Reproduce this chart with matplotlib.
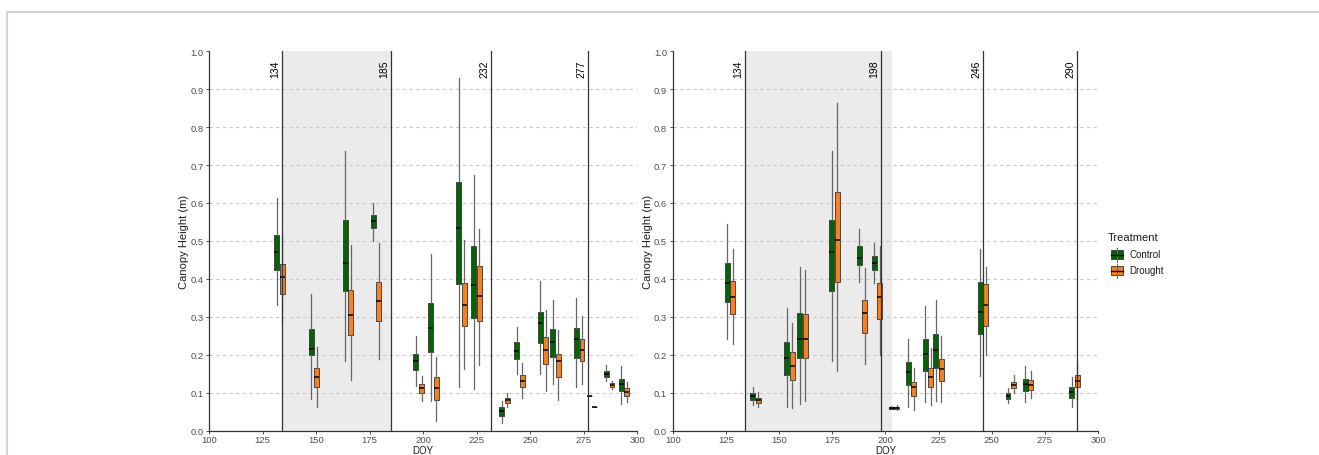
import numpy as np
import matplotlib
matplotlib.use("Agg")
import matplotlib.pyplot as plt
from matplotlib.lines import Line2D
from matplotlib.patches import Rectangle

plt.rcParams['font.family'] = ['Liberation Sans', 'DejaVu Sans']

# sampling dates (DOY) of each Control/Drought pair
left_doy = [133, 149, 165, 178, 198, 205, 218, 225, 238, 245, 256, 262, 273, 279, 287, 294]
right_doy = [127, 139, 155, 161, 176, 189, 196, 204, 212, 220, 225, 246, 259, 267, 289]

# phase boundaries and drought window per site
left_lines = [134, 185, 232, 277]
right_lines = [134, 198, 246, 290]
left_drought = (134, 185)
right_drought = (134, 203)

# box stats: lower whisker, q1, median, q3, upper whisker
left_ctrl_lo = [0.330, 0.083, 0.184, 0.501, 0.118, 0.077, 0.114, 0.109, 0.020, 0.149, 0.150, 0.122, 0.114, 0.090, 0.131, 0.070]
left_ctrl_q1 = [0.424, 0.199, 0.367, 0.534, 0.160, 0.207, 0.387, 0.297, 0.039, 0.188, 0.230, 0.194, 0.191, 0.090, 0.142, 0.105]
left_ctrl_med = [0.472, 0.214, 0.442, 0.553, 0.184, 0.271, 0.534, 0.385, 0.052, 0.210, 0.283, 0.234, 0.242, 0.090, 0.150, 0.122]
left_ctrl_q3 = [0.516, 0.267, 0.554, 0.569, 0.203, 0.337, 0.656, 0.486, 0.063, 0.234, 0.312, 0.267, 0.271, 0.090, 0.157, 0.137]
left_ctrl_hi = [0.612, 0.360, 0.737, 0.601, 0.248, 0.466, 0.929, 0.674, 0.079, 0.274, 0.394, 0.343, 0.350, 0.090, 0.173, 0.171]

left_dro_lo = [0.282, 0.061, 0.133, 0.188, 0.079, 0.024, 0.162, 0.172, 0.061, 0.085, 0.105, 0.080, 0.122, 0.061, 0.109, 0.074]
left_dro_q1 = [0.359, 0.114, 0.251, 0.289, 0.099, 0.080, 0.275, 0.290, 0.073, 0.114, 0.175, 0.140, 0.182, 0.061, 0.115, 0.092]
left_dro_med = [0.404, 0.142, 0.304, 0.341, 0.111, 0.112, 0.332, 0.354, 0.081, 0.131, 0.213, 0.182, 0.213, 0.061, 0.121, 0.102]
left_dro_q3 = [0.440, 0.166, 0.370, 0.391, 0.122, 0.140, 0.388, 0.435, 0.087, 0.146, 0.247, 0.201, 0.241, 0.061, 0.125, 0.111]
left_dro_hi = [0.520, 0.220, 0.488, 0.494, 0.144, 0.195, 0.503, 0.531, 0.098, 0.177, 0.319, 0.264, 0.302, 0.061, 0.131, 0.127]

right_ctrl_lo = [0.241, 0.067, 0.061, 0.070, 0.184, 0.392, 0.388, 0.056, 0.061, 0.076, 0.079, 0.144, 0.073, 0.074, 0.063]
right_ctrl_q1 = [0.339, 0.081, 0.146, 0.191, 0.367, 0.437, 0.423, 0.058, 0.120, 0.157, 0.166, 0.255, 0.083, 0.103, 0.086]
right_ctrl_med = [0.390, 0.090, 0.190, 0.241, 0.472, 0.455, 0.443, 0.060, 0.153, 0.201, 0.213, 0.312, 0.090, 0.122, 0.101]
right_ctrl_q3 = [0.442, 0.098, 0.234, 0.309, 0.554, 0.486, 0.459, 0.062, 0.181, 0.242, 0.255, 0.391, 0.098, 0.136, 0.114]
right_ctrl_hi = [0.544, 0.115, 0.324, 0.431, 0.737, 0.531, 0.494, 0.065, 0.242, 0.328, 0.344, 0.479, 0.111, 0.169, 0.140]

right_dro_lo = [0.227, 0.061, 0.059, 0.079, 0.157, 0.175, 0.200, 0.055, 0.055, 0.066, 0.076, 0.200, 0.098, 0.085, 0.083]
right_dro_q1 = [0.308, 0.073, 0.133, 0.191, 0.392, 0.256, 0.293, 0.058, 0.090, 0.114, 0.131, 0.276, 0.112, 0.108, 0.114]
right_dro_med = [0.353, 0.081, 0.171, 0.241, 0.503, 0.311, 0.352, 0.060, 0.114, 0.142, 0.162, 0.332, 0.121, 0.121, 0.131]
right_dro_q3 = [0.394, 0.087, 0.208, 0.308, 0.628, 0.343, 0.389, 0.062, 0.129, 0.166, 0.188, 0.387, 0.129, 0.133, 0.146]
right_dro_hi = [0.479, 0.102, 0.284, 0.424, 0.864, 0.429, 0.486, 0.066, 0.166, 0.217, 0.248, 0.430, 0.146, 0.157, 0.177]

treatments = ['Control', 'Drought']
colors = {'Control': '#006400', 'Drought': '#F8801E'}

W, H = 1319, 456
fig = plt.figure(figsize=(W / 100, H / 100), dpi=100)

# panel box in pixels: top of y range and bottom of y range
top_px, bot_px = 52.3, 431.5


def make_stats(lo, q1, med, q3, hi):
    return [dict(whislo=a, q1=b, med=c, q3=d, whishi=e, fliers=[])
            for a, b, c, d, e in zip(lo, q1, med, q3, hi)]


def draw_panel(ax, doy, ctrl, dro, lines, shade, ylab_x):
    ax.set_xlim(100, 300)
    ax.set_ylim(0, 1)
    ax.axvspan(*shade, color='#ebebeb', zorder=0, lw=0)
    for yv in np.arange(0.1, 0.95, 0.1):
        ax.axhline(yv, color='#c8c8c8', lw=0.8, ls=(0, (3, 3)), zorder=0.5)

    dodge = 1.3
    for stats, off, name in [(ctrl, -dodge, 'Control'), (dro, dodge, 'Drought')]:
        pos = np.array(doy) + off
        ax.bxp(stats, positions=pos, widths=2.3, showcaps=False,
               showfliers=False, patch_artist=True, manage_ticks=False,
               boxprops=dict(facecolor=colors[name], edgecolor='#333333', lw=0.6),
               medianprops=dict(color='black', lw=1.1),
               whiskerprops=dict(color='#666666', lw=0.9),
               zorder=2)

    for xv in lines:
        ax.axvline(xv, color='#333333', lw=0.9, zorder=3)
        ax.text(xv - 0.8, 0.955, str(xv), rotation=90, ha='right', va='center',
                fontsize=7.5, color='black')

    for s in ['top', 'right']:
        ax.spines[s].set_visible(False)
    for s in ['left', 'bottom']:
        ax.spines[s].set_color('#333333')
        ax.spines[s].set_linewidth(0.9)
    ax.set_xticks([100, 125, 150, 175, 200, 225, 250, 275, 300])
    ax.set_yticks(np.round(np.arange(0, 1.01, 0.1), 1))
    ax.set_yticklabels([f'{v:.1f}' for v in np.arange(0, 1.01, 0.1)])
    ax.tick_params(labelsize=6.8, colors='#333333', labelcolor='#4d4d4d',
                   length=2.5, width=0.6, pad=1.5)
    ax.tick_params(axis='x', pad=0.8)
    ax.set_xlabel('DOY', fontsize=7, color='#1a1a1a', va='bottom')
    ax.xaxis.set_label_coords(0.5, -(H - 0.3 - bot_px) / (bot_px - top_px))
    ax.set_ylabel('Canopy Height (m)', fontsize=8, color='#1a1a1a', va='center')
    ax.yaxis.set_label_coords(ylab_x, 0.5)
    ax.patch.set_alpha(0)


ph = (bot_px - top_px) / H
ax1 = fig.add_axes([209 / W, 1 - bot_px / H, 428 / W, ph])
ax2 = fig.add_axes([672.7 / W, 1 - bot_px / H, 425.3 / W, ph])

draw_panel(ax1, left_doy,
           make_stats(left_ctrl_lo, left_ctrl_q1, left_ctrl_med, left_ctrl_q3, left_ctrl_hi),
           make_stats(left_dro_lo, left_dro_q1, left_dro_med, left_dro_q3, left_dro_hi),
           left_lines, left_drought, -0.059)
draw_panel(ax2, right_doy,
           make_stats(right_ctrl_lo, right_ctrl_q1, right_ctrl_med, right_ctrl_q3, right_ctrl_hi),
           make_stats(right_dro_lo, right_dro_q1, right_dro_med, right_dro_q3, right_dro_hi),
           right_lines, right_drought, -0.057)

# overlay in pixel coordinates for the frame and legend
ov = fig.add_axes([0, 0, 1, 1], zorder=-1)
ov.set_xlim(0, W)
ov.set_ylim(H, 0)
ov.axis('off')
ov.add_line(Line2D([6.5, W], [12.5, 12.5], color='#d2d2d2', lw=1.5))
ov.add_line(Line2D([6.5, 6.5], [12.5, H], color='#d2d2d2', lw=1.5))

leg = fig.add_axes([0, 0, 1, 1], zorder=5)
leg.set_xlim(0, W)
leg.set_ylim(H, 0)
leg.axis('off')
leg.text(1108, 238, 'Treatment', fontsize=8, color='#1a1a1a', va='center', ha='left')
for i, name in enumerate(treatments):
    yc = 255.5 + i * 16
    leg.add_line(Line2D([1116.5, 1116.5], [yc - 7, yc + 7], color='#666666', lw=0.8))
    leg.add_patch(Rectangle((1110.5, yc - 4.5), 12, 9, facecolor=colors[name],
                            edgecolor='#333333', lw=0.6))
    leg.add_line(Line2D([1110.5, 1122.5], [yc, yc], color='black', lw=1.0))
    leg.text(1129, yc, name, fontsize=7, color='#1a1a1a', va='center', ha='left')

fig.savefig('out.png', dpi=100)
